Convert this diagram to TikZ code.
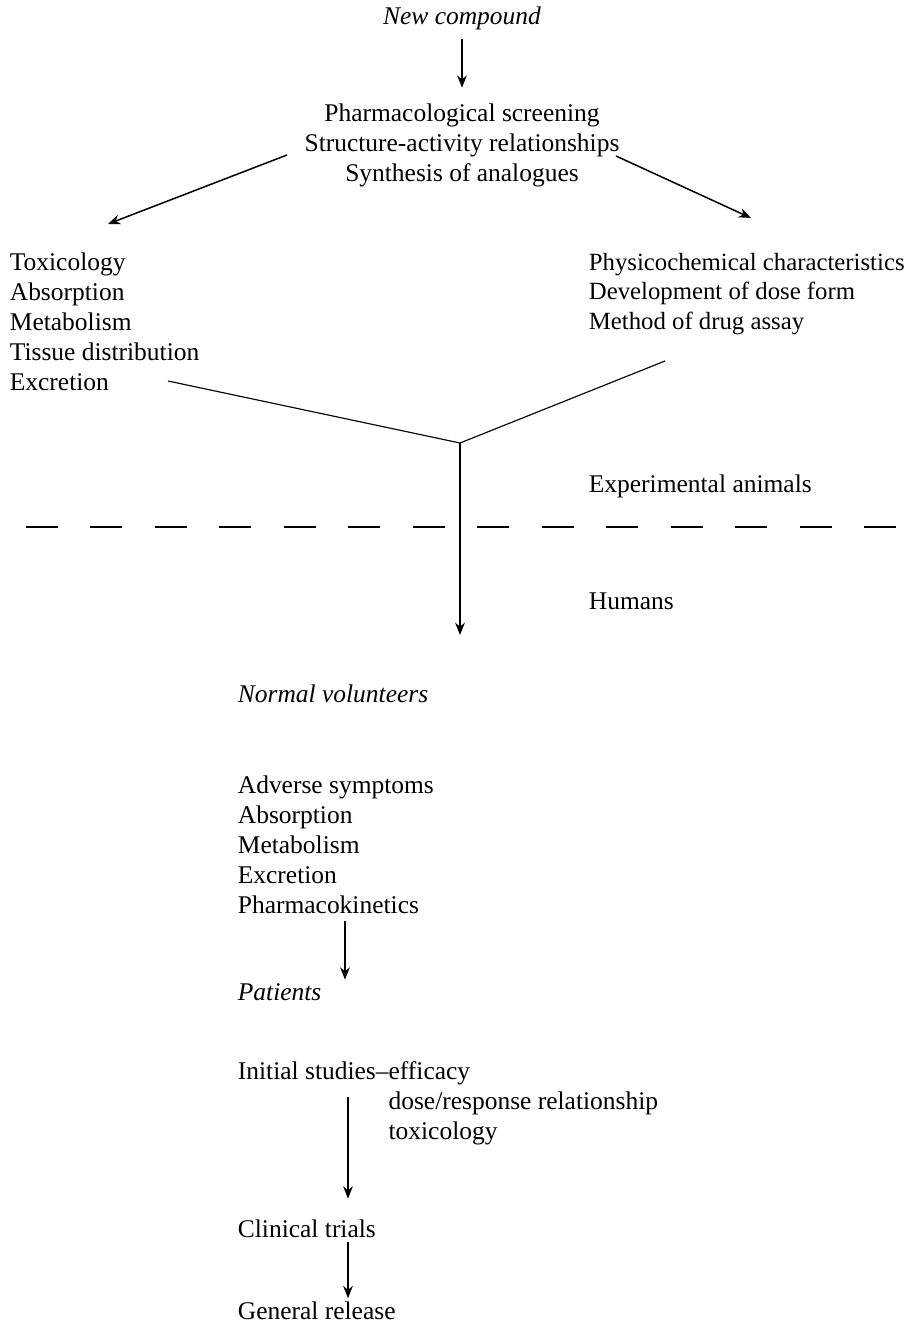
\documentclass[tikz,border=0pt]{standalone}
\usepackage{fontspec}
\setmainfont{Liberation Serif}
\usetikzlibrary{arrows.meta,positioning}

\begin{document}
\begin{tikzpicture}[x=0.02cm,y=-0.02cm,
  every node/.style={font=\fontsize{14.5}{17}\selectfont,inner sep=2pt},
  lbl/.style={anchor=west},
  block/.style={anchor=north west,align=left},
  flow/.style={-{Stealth[length=7pt,width=5.5pt]},line width=0.85pt},
  branch/.style={line width=0.65pt},
  divide/.style={line width=0.9pt,dash pattern=on 0.64cm off 0.65cm}]
\useasboundingbox (0,0) rectangle (912,1324);

% Starting point and screening
\node (newc) at (462,18) {\itshape New compound};
\node[align=center,anchor=north] (screen) at (462,100)
  {Pharmacological screening\\Structure-activity relationships\\Synthesis of analogues};
\draw[flow,shorten <=3pt,shorten >=7pt] (newc) -- (screen);

% Two branches of animal work
\node[block] (animal) at (6,249)
  {Toxicology\\Absorption\\Metabolism\\Tissue distribution\\Excretion};
\node[block,font=\fontsize{14.1}{17}\selectfont] (chem) at (585,249)
  {Physicochemical characteristics\\Development of dose form\\Method of drug assay};
\coordinate (sl) at (287,155);
\coordinate (tl) at (108,224);
\coordinate (sr) at (616,156);
\coordinate (tr) at (751,218);
\draw[flow] (sl) -- (tl);
\draw[flow] (sr) -- (tr);

% Results come together
\coordinate (el) at (168,381);
\coordinate (er) at (665,361);
\coordinate (join) at (460,443);
\coordinate (down) at (460,635);
\draw[branch] (el) -- (join) -- (er);
\draw[flow] (join) -- (down);

% Boundary between animals and humans
\coordinate (dl) at (26,527);
\coordinate (dr) at (896,527);
\draw[divide] (dl) -- (dr);
\node[lbl] (exp) at (585,486) {Experimental animals};
\node[lbl] (hum) at (585,601) {Humans};

% Human studies
\node[lbl] (normal) at (234,694) {\itshape Normal volunteers};
\node[block] (vol) at (234,772)
  {Adverse symptoms\\Absorption\\Metabolism\\Excretion\\Pharmacokinetics};
\node[lbl] (pat) at (234,992) {\itshape Patients};
\coordinate (c1) at (345,0);
\draw[flow,shorten <=2pt] (vol.south -| c1) -- (pat.north -| c1);

\node[anchor=north west] (init) at (234,1055)
  {\begin{tabular}{@{}l@{}l@{}}
   Initial studies–&efficacy\\
   &dose/response relationship\\
   &toxicology
   \end{tabular}};
\node[lbl] (trials) at (234,1229) {Clinical trials};
\node[lbl] (release) at (234,1311) {General release};
\coordinate (c2) at (348,1097);
\draw[flow,shorten >=10pt] (c2) -- (c2 |- trials.north);
\draw[flow] (trials.south -| c2) -- (release.north -| c2);

\end{tikzpicture}
\end{document}
